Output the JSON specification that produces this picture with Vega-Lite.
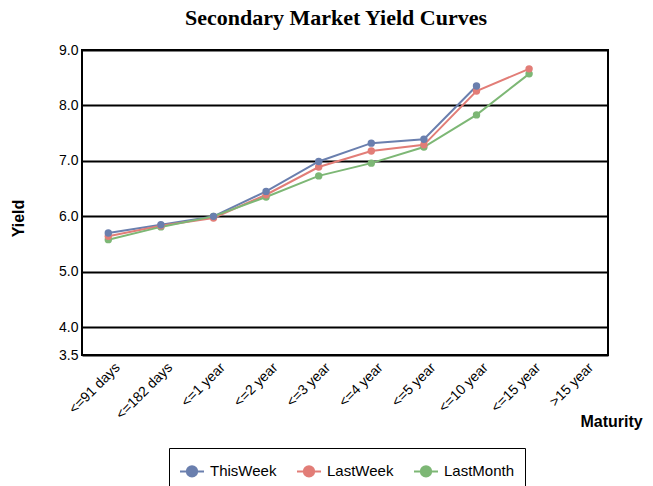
{
  "$schema": "https://vega.github.io/schema/vega-lite/v6.json",
  "width": 526,
  "height": 305,
  "autosize": {"type": "none"},
  "padding": {"left": 82, "top": 50, "right": 45, "bottom": 131},
  "background": "white",
  "title": {
    "text": "Secondary Market Yield Curves",
    "font": "Liberation Serif",
    "fontSize": 22,
    "fontWeight": "bold",
    "color": "black",
    "anchor": "middle",
    "offset": 13,
    "dx": -9
  },
  "config": {
    "view": {"stroke": "black", "strokeWidth": 2},
    "axis": {
      "labelFont": "Liberation Sans",
      "labelFontSize": 14,
      "labelColor": "black",
      "titleFont": "Liberation Sans",
      "titleFontSize": 16,
      "titleFontWeight": "bold",
      "titleColor": "black",
      "domain": false,
      "ticks": false
    }
  },
  "data": {
    "values": [
      {"maturity": "<=91 days", "series": "ThisWeek", "yield": 5.70},
      {"maturity": "<=182 days", "series": "ThisWeek", "yield": 5.85},
      {"maturity": "<=1 year", "series": "ThisWeek", "yield": 6.00},
      {"maturity": "<=2 year", "series": "ThisWeek", "yield": 6.45},
      {"maturity": "<=3 year", "series": "ThisWeek", "yield": 6.99},
      {"maturity": "<=4 year", "series": "ThisWeek", "yield": 7.32},
      {"maturity": "<=5 year", "series": "ThisWeek", "yield": 7.39},
      {"maturity": "<=10 year", "series": "ThisWeek", "yield": 8.35},
      {"maturity": "<=91 days", "series": "LastWeek", "yield": 5.64},
      {"maturity": "<=182 days", "series": "LastWeek", "yield": 5.83},
      {"maturity": "<=1 year", "series": "LastWeek", "yield": 5.97},
      {"maturity": "<=2 year", "series": "LastWeek", "yield": 6.39},
      {"maturity": "<=3 year", "series": "LastWeek", "yield": 6.89},
      {"maturity": "<=4 year", "series": "LastWeek", "yield": 7.18},
      {"maturity": "<=5 year", "series": "LastWeek", "yield": 7.29},
      {"maturity": "<=10 year", "series": "LastWeek", "yield": 8.26},
      {"maturity": "<=15 year", "series": "LastWeek", "yield": 8.66},
      {"maturity": "<=91 days", "series": "LastMonth", "yield": 5.58},
      {"maturity": "<=182 days", "series": "LastMonth", "yield": 5.81},
      {"maturity": "<=1 year", "series": "LastMonth", "yield": 6.00},
      {"maturity": "<=2 year", "series": "LastMonth", "yield": 6.35},
      {"maturity": "<=3 year", "series": "LastMonth", "yield": 6.73},
      {"maturity": "<=4 year", "series": "LastMonth", "yield": 6.96},
      {"maturity": "<=5 year", "series": "LastMonth", "yield": 7.25},
      {"maturity": "<=10 year", "series": "LastMonth", "yield": 7.83},
      {"maturity": "<=15 year", "series": "LastMonth", "yield": 8.57}
    ]
  },
  "mark": {"type": "line", "strokeWidth": 2, "point": {"filled": true, "size": 55, "opacity": 1}},
  "encoding": {
    "x": {
      "field": "maturity",
      "type": "nominal",
      "scale": {
        "domain": ["<=91 days", "<=182 days", "<=1 year", "<=2 year", "<=3 year", "<=4 year", "<=5 year", "<=10 year", "<=15 year", ">15 year"],
        "paddingOuter": 0.5
      },
      "axis": {
        "title": "Maturity",
        "labelAngle": -45,
        "labelAlign": "right",
        "labelBaseline": "middle",
        "labelPadding": 10,
        "labelOffset": 9,
        "grid": false,
        "titleAnchor": "start",
        "titleAlign": "left",
        "titleBaseline": "middle",
        "titleX": 498,
        "titleY": 66
      }
    },
    "y": {
      "field": "yield",
      "type": "quantitative",
      "scale": {"domain": [3.5, 9.0], "nice": false, "zero": false},
      "axis": {
        "title": "Yield",
        "values": [3.5, 4, 5, 6, 7, 8, 9],
        "format": ".1f",
        "labelPadding": 4,
        "grid": true,
        "gridColor": "black",
        "gridWidth": 2,
        "gridOpacity": 1,
        "titleX": -64,
        "titleY": 168,
        "titleAlign": "center",
        "titleBaseline": "middle"
      }
    },
    "color": {
      "field": "series",
      "type": "nominal",
      "scale": {"domain": ["ThisWeek", "LastWeek", "LastMonth"], "range": ["#6a7fae", "#e27d77", "#7db775"]},
      "legend": {
        "title": null,
        "orient": "none",
        "direction": "horizontal",
        "legendX": 87,
        "legendY": 398,
        "padding": 10,
        "strokeColor": "black",
        "labelFont": "Liberation Sans",
        "labelFontSize": 15,
        "labelColor": "black",
        "symbolType": "M-1,0L1,0M0.43,0A0.43,0.43,0,1,1,-0.43,0A0.43,0.43,0,1,1,0.43,0Z",
        "symbolSize": 576,
        "symbolStrokeWidth": 2,
        "labelOffset": 5,
        "columnPadding": 16,
        "encode": {
          "symbols": {
            "update": {
              "fill": {"scale": "color", "field": "value"},
              "stroke": {"scale": "color", "field": "value"},
              "opacity": {"value": 1}
            }
          }
        }
      }
    },
    "order": {"field": "series"}
  }
}
